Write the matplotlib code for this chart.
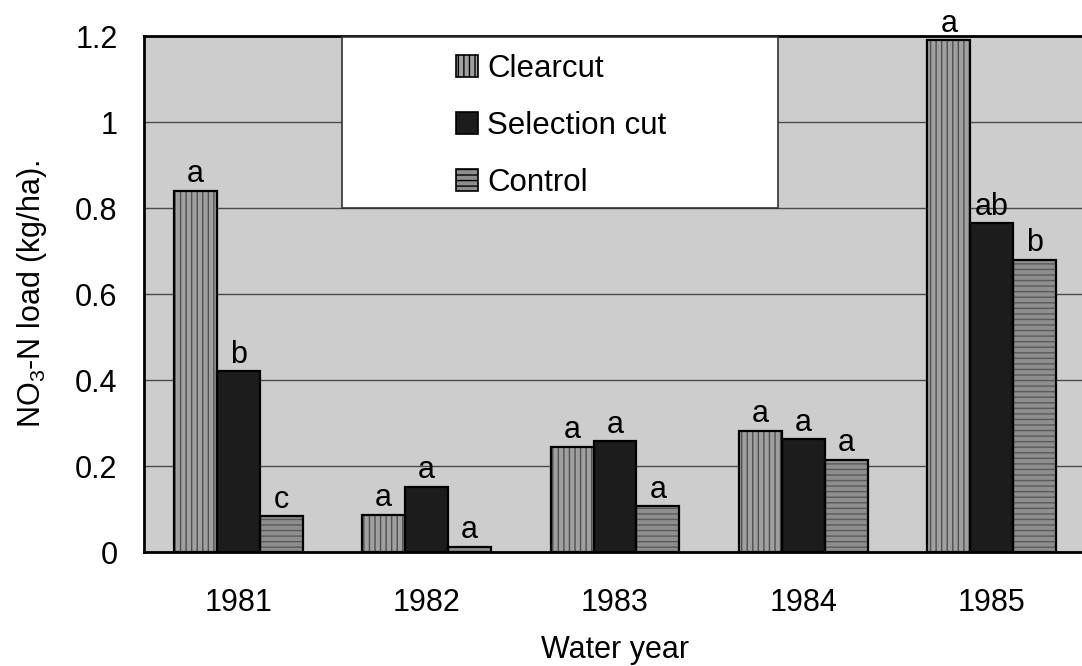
import matplotlib
matplotlib.use("Agg")
import matplotlib.pyplot as plt
import numpy as np
from matplotlib.patches import Rectangle

plt.rcParams['font.family'] = ['Liberation Sans', 'DejaVu Sans']
plt.rcParams['mathtext.fontset'] = 'custom'
plt.rcParams['mathtext.rm'] = 'Liberation Sans'
plt.rcParams['hatch.linewidth'] = 1.0

years = ["1981", "1982", "1983", "1984", "1985"]
clearcut = [0.84, 0.087, 0.245, 0.282, 1.19]
selection = [0.42, 0.152, 0.258, 0.263, 0.765]
control = [0.083, 0.012, 0.107, 0.215, 0.68]
letters_clear = ["a", "a", "a", "a", "a"]
letters_sel = ["b", "a", "a", "a", "ab"]
letters_ctrl = ["c", "a", "a", "a", "b"]

series = [
    ("Clearcut", clearcut, letters_clear, "#a0a0a0", "|||", "#505050"),
    ("Selection cut", selection, letters_sel, "#1c1c1c", None, "#1c1c1c"),
    ("Control", control, letters_ctrl, "#8e8e8e", "---", "#5a5a5a"),
]

fig = plt.figure(figsize=(10.82, 6.66), dpi=100)
ax = fig.add_axes([144 / 1082, 114 / 666, 942 / 1082, 516 / 666])
ax.set_facecolor("#cdcdcd")

x = np.arange(len(years))
w = 0.228
handles = []
for i, (name, vals, lets, fc, hatch, hc) in enumerate(series):
    pos = x + (i - 1) * w
    ax.bar(pos, vals, w, color=fc, hatch=hatch, edgecolor=hc, linewidth=0, zorder=2)
    ax.bar(pos, vals, w, fill=False, edgecolor="black", linewidth=1.6, zorder=3)
    for xp, v, t in zip(pos, vals, lets):
        ax.annotate(t, (xp, v), xytext=(0, 1), textcoords="offset points",
                    ha="center", va="bottom", fontsize=22, annotation_clip=False)
    handles.append(Rectangle((0, 0), 1, 1, facecolor=fc, hatch=hatch,
                             edgecolor="black", linewidth=1.2, label=name))

ax.set_xlim(-0.5, 4.5)
ax.set_ylim(0, 1.2)
ax.set_yticks([0, 0.2, 0.4, 0.6, 0.8, 1.0, 1.2])
ax.set_yticklabels(["0", "0.2", "0.4", "0.6", "0.8", "1", "1.2"])
ax.set_xticks(x)
ax.set_xticklabels(years)
ax.tick_params(axis="both", length=0, labelsize=22)
ax.tick_params(axis="y", pad=19)
ax.tick_params(axis="x", pad=26)
ax.grid(axis="y", color="#4a4a4a", linewidth=1.0, zorder=1)
ax.set_axisbelow(True)
for s in ax.spines.values():
    s.set_linewidth(2)
    s.set_color("black")

ax.set_xlabel("Water year", fontsize=22, labelpad=12)
ax.set_ylabel(r"NO$_\mathregular{3}$-N load (kg/ha).", fontsize=22, labelpad=19)

# legend box
box = Rectangle(((342 - 144) / 942, (552 - 208) / 516), (778 - 342) / 942, (208 - 37) / 516,
                transform=ax.transAxes, facecolor="white", edgecolor="#333333",
                linewidth=1.2, zorder=4)
ax.add_patch(box)
leg = ax.legend(handles=handles, loc="upper left",
                bbox_to_anchor=((456 - 144) / 942, (552 - 54) / 516),
                frameon=False, fontsize=22.5, borderpad=0, borderaxespad=0,
                handlelength=0.7, handleheight=0.7, handletextpad=0.3,
                labelspacing=0.86)
leg.set_zorder(5)

fig.savefig("out.png", dpi=100)
